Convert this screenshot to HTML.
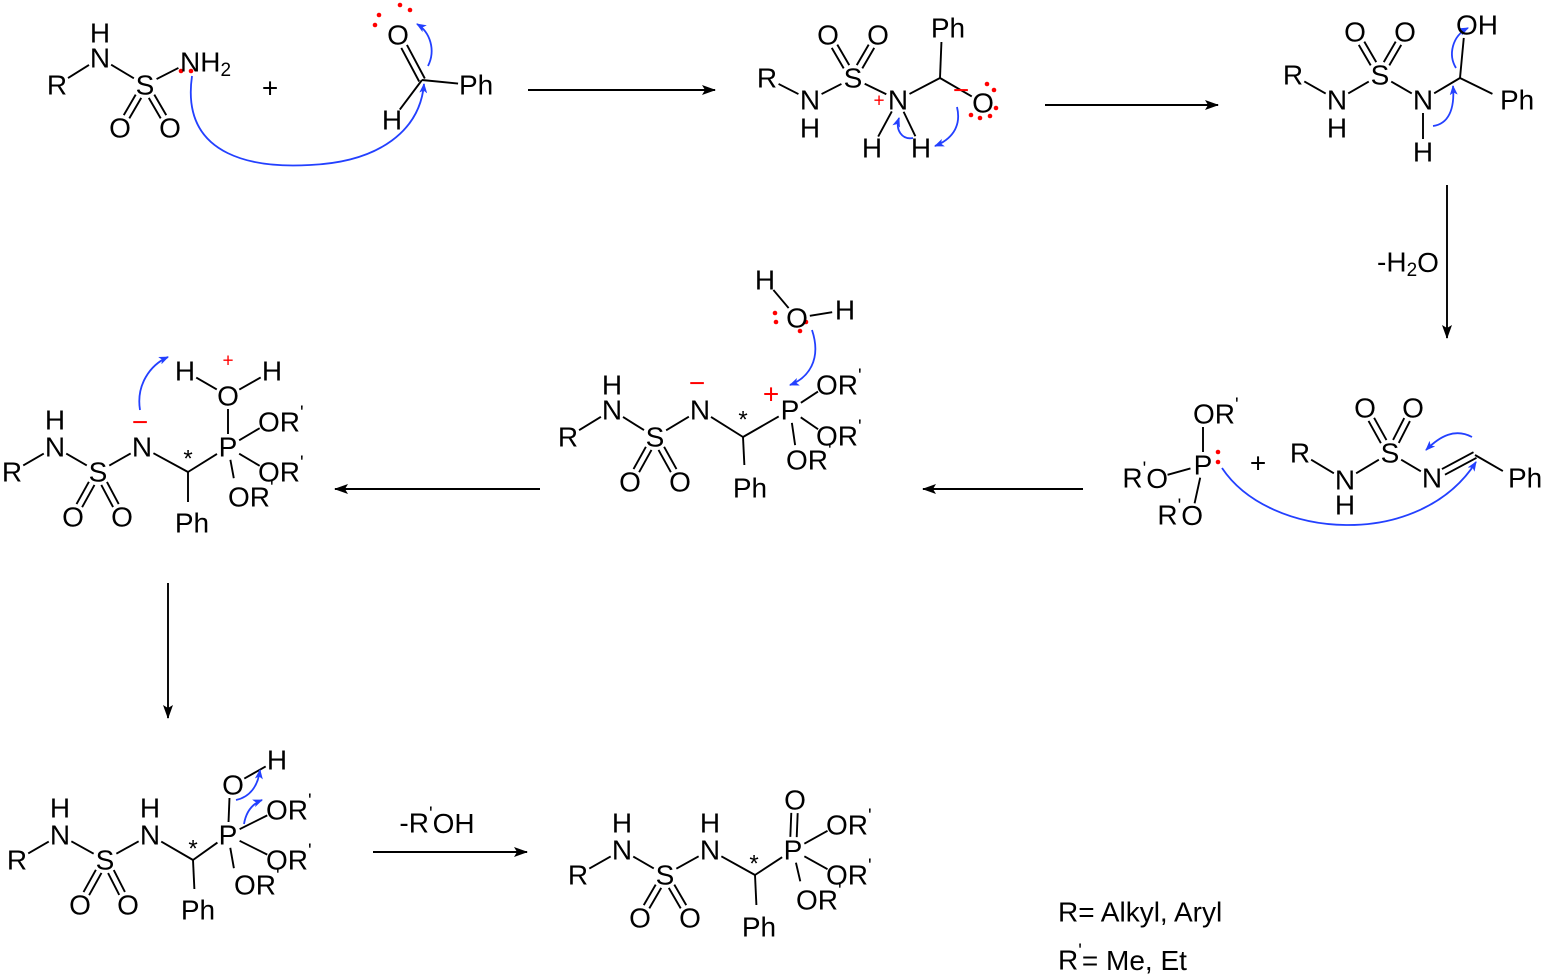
<!DOCTYPE html>
<html><head><meta charset="utf-8"><style>
html,body{margin:0;padding:0;background:#fff;}
svg{display:block;}
text{font-family:"Liberation Sans",Arial,sans-serif;font-size:28px;fill:#000;dominant-baseline:central;}
.m{text-anchor:middle}.s{text-anchor:start}.e{text-anchor:end}
.r{fill:#f00}
.sm{font-size:19px}
</style></head><body>
<svg id="sv" width="1544" height="977" viewBox="0 0 1544 977" xmlns="http://www.w3.org/2000/svg">
<defs>
<marker id="ak" markerWidth="14" markerHeight="10" refX="13" refY="5" orient="auto" markerUnits="userSpaceOnUse"><path d="M0,0 L14,5 L0,10 L3,5 z" fill="#000"/></marker>
<marker id="ab" markerWidth="10" markerHeight="8" refX="9" refY="4" orient="auto" markerUnits="userSpaceOnUse"><path d="M0,0 L10,4 L0,8 L2.5,4 z" fill="#2340ff"/></marker>
</defs>
<g id="bonds" stroke="#000" stroke-width="1.9" fill="none"></g>
<g stroke="#000" stroke-width="1.9" fill="none" marker-end="url(#ak)">
<line x1="528" y1="90" x2="715" y2="90"/>
<line x1="1045" y1="105" x2="1218" y2="105"/>
<line x1="1447" y1="185" x2="1447" y2="338"/>
<line x1="1083" y1="489" x2="923" y2="489"/>
<line x1="540" y1="489" x2="335" y2="489"/>
<line x1="168" y1="583" x2="168" y2="718"/>
<line x1="373" y1="852" x2="527" y2="852"/>
</g>
<g stroke="#2340ff" stroke-width="1.8" fill="none" marker-end="url(#ab)">
<path d="M192,76 C180,160 260,168 310,165 C380,162 420,130 424,84"/>
<path d="M428,66 C436,50 430,32 417,24"/>
<path d="M913,138 C902,140 895,130 899,118"/>
<path d="M957,107 C962,128 950,140 935,146"/>
<path d="M1456,68 C1448,55 1452,36 1468,28"/>
<path d="M1433,126 C1448,124 1455,110 1453,86"/>
<path d="M1222,468 C1270,540 1420,550 1476,462"/>
<path d="M1472,437 C1455,428 1440,436 1426,450"/>
<path d="M812,330 C822,360 808,378 790,385"/>
<path d="M140,410 C136,385 150,365 168,357"/>
<path d="M236,800 C250,797 258,786 260,770"/>
<path d="M244,824 C246,812 252,804 262,800"/>
</g>
<g fill="#f00">
<circle cx="181" cy="71" r="2.3"/><circle cx="191" cy="71" r="2.3"/>
<circle cx="379" cy="15" r="2.3"/><circle cx="375" cy="25" r="2.3"/><circle cx="400" cy="5" r="2.3"/><circle cx="410" cy="10" r="2.3"/>
<circle cx="987" cy="84" r="2.3"/><circle cx="994" cy="90" r="2.3"/><circle cx="996" cy="108" r="2.3"/><circle cx="990" cy="116" r="2.3"/><circle cx="971" cy="115" r="2.3"/><circle cx="980" cy="118" r="2.3"/>
<circle cx="1218" cy="452" r="2.3"/><circle cx="1218" cy="462" r="2.3"/>
<circle cx="775" cy="313" r="2.3"/><circle cx="776" cy="322" r="2.3"/><circle cx="800" cy="331" r="2.3"/><circle cx="806" cy="322" r="2.3"/>
</g>
<!-- Structure 1 -->
<text class="m" x="57" y="85">R</text><text class="m" x="100" y="33">H</text><text class="m" x="100" y="58">N</text>
<text class="m" x="145" y="85">S</text><text class="m" x="120" y="128">O</text><text class="m" x="170" y="128">O</text>
<text class="s" x="180" y="62">NH<tspan class="sm" dy="8">2</tspan></text>
<text class="m" x="270" y="88">+</text>
<text class="m" x="398" y="35">O</text><text class="m" x="392" y="120">H</text><text class="s" x="459" y="85">Ph</text>
<!-- Structure 2 -->
<text class="m" x="767" y="78">R</text><text class="m" x="810" y="100">N</text><text class="m" x="810" y="128">H</text>
<text class="m" x="853" y="78">S</text><text class="m" x="828" y="35">O</text><text class="m" x="878" y="35">O</text>
<text class="m" x="898" y="100">N</text><text class="m r sm" x="879" y="101">+</text>
<text class="m" x="872" y="148">H</text><text class="m" x="921" y="148">H</text>
<text class="m" x="948" y="28">Ph</text><text class="m" x="983" y="103">O</text><text class="m r" x="961" y="90">−</text>
<!-- Structure 3 -->
<text class="m" x="1293" y="75">R</text><text class="m" x="1337" y="100">N</text><text class="m" x="1337" y="128">H</text>
<text class="m" x="1380" y="75">S</text><text class="m" x="1355" y="32">O</text><text class="m" x="1405" y="32">O</text>
<text class="m" x="1423" y="100">N</text><text class="m" x="1423" y="152">H</text>
<text class="s" x="1456" y="25">OH</text><text class="s" x="1500" y="100">Ph</text>
<text class="m" x="1408" y="262">-H<tspan class="sm" dy="8">2</tspan><tspan dy="-8">O</tspan></text>
<!-- Structure 4 -->
<text class="m" x="1203" y="465">P</text>
<text class="s" x="1193" y="414">OR<tspan class="sm" dy="-9">'</tspan></text>
<text class="e" x="1168" y="478">R<tspan class="sm" dy="-9">'</tspan><tspan dy="9">O</tspan></text>
<text class="e" x="1203" y="515">R<tspan class="sm" dy="-9">'</tspan><tspan dy="9">O</tspan></text>
<text class="m" x="1258" y="463">+</text>
<text class="m" x="1300" y="453">R</text><text class="m" x="1345" y="480">N</text><text class="m" x="1345" y="505">H</text>
<text class="m" x="1390" y="453">S</text><text class="m" x="1365" y="408">O</text><text class="m" x="1413" y="408">O</text>
<text class="m" x="1432" y="478">N</text><text class="s" x="1508" y="478">Ph</text>
<!-- Structure 5 -->
<text class="m" x="568" y="437">R</text><text class="m" x="612" y="385">H</text><text class="m" x="612" y="410">N</text>
<text class="m" x="655" y="437">S</text><text class="m" x="630" y="482">O</text><text class="m" x="680" y="482">O</text>
<text class="m" x="700" y="410">N</text><text class="m r" x="697" y="383">−</text>
<text class="m" x="743" y="420" style="font-size:24px">*</text>
<text class="m" x="790" y="410">P</text><text class="m r" x="771" y="394">+</text>
<text class="s" x="816" y="385">OR<tspan class="sm" dy="-9">'</tspan></text>
<text class="s" x="816" y="436">OR<tspan class="sm" dy="-9">'</tspan></text>
<text class="s" x="786" y="460">OR<tspan class="sm" dy="-9">'</tspan></text>
<text class="m" x="750" y="488">Ph</text>
<text class="m" x="765" y="280">H</text><text class="m" x="797" y="318">O</text><text class="m" x="845" y="310">H</text>
<!-- Structure 6 -->
<text class="m" x="12" y="472">R</text><text class="m" x="55" y="420">H</text><text class="m" x="55" y="447">N</text>
<text class="m" x="98" y="472">S</text><text class="m" x="73" y="517">O</text><text class="m" x="122" y="517">O</text>
<text class="m" x="142" y="447">N</text><text class="m r" x="140" y="422">−</text>
<text class="m" x="188" y="459" style="font-size:24px">*</text>
<text class="m" x="228" y="447">P</text>
<text class="s" x="258" y="422">OR<tspan class="sm" dy="-9">'</tspan></text>
<text class="s" x="258" y="472">OR<tspan class="sm" dy="-9">'</tspan></text>
<text class="s" x="228" y="497">OR<tspan class="sm" dy="-9">'</tspan></text>
<text class="m" x="192" y="523">Ph</text>
<text class="m" x="228" y="396">O</text><text class="m" x="185" y="371">H</text><text class="m" x="272" y="371">H</text><text class="m r sm" x="228" y="361">+</text>
<!-- Structure 7 -->
<text class="m" x="17" y="860">R</text><text class="m" x="60" y="808">H</text><text class="m" x="60" y="835">N</text>
<text class="m" x="105" y="860">S</text><text class="m" x="80" y="905">O</text><text class="m" x="128" y="905">O</text>
<text class="m" x="150" y="808">H</text><text class="m" x="150" y="835">N</text>
<text class="m" x="193" y="849" style="font-size:24px">*</text>
<text class="m" x="228" y="835">P</text>
<text class="m" x="233" y="785">O</text><text class="m" x="277" y="760">H</text>
<text class="s" x="266" y="810">OR<tspan class="sm" dy="-9">'</tspan></text>
<text class="s" x="266" y="860">OR<tspan class="sm" dy="-9">'</tspan></text>
<text class="s" x="234" y="885">OR<tspan class="sm" dy="-9">'</tspan></text>
<text class="m" x="198" y="910">Ph</text>
<text class="m" x="437" y="823">-R<tspan class="sm" dy="-9">'</tspan><tspan dy="9">OH</tspan></text>
<!-- Structure 8 -->
<text class="m" x="578" y="875">R</text><text class="m" x="622" y="823">H</text><text class="m" x="622" y="850">N</text>
<text class="m" x="665" y="875">S</text><text class="m" x="640" y="918">O</text><text class="m" x="690" y="918">O</text>
<text class="m" x="710" y="823">H</text><text class="m" x="710" y="850">N</text>
<text class="m" x="754" y="864" style="font-size:24px">*</text>
<text class="m" x="793" y="850">P</text><text class="m" x="795" y="800">O</text>
<text class="s" x="826" y="825">OR<tspan class="sm" dy="-9">'</tspan></text>
<text class="s" x="826" y="875">OR<tspan class="sm" dy="-9">'</tspan></text>
<text class="s" x="796" y="900">OR<tspan class="sm" dy="-9">'</tspan></text>
<text class="m" x="759" y="927">Ph</text>
<text class="s" x="1058" y="912">R= Alkyl, Aryl</text>
<text class="s" x="1058" y="960">R<tspan class="sm" dy="-9">'</tspan><tspan dy="9">= Me, Et</tspan></text>
</svg>
<script>
var g=document.getElementById('bonds'),NS='http://www.w3.org/2000/svg';
function ln(a,b,c,d){var l=document.createElementNS(NS,'line');l.setAttribute('x1',a);l.setAttribute('y1',b);l.setAttribute('x2',c);l.setAttribute('y2',d);g.appendChild(l);}
function L(x1,y1,x2,y2,t1,t2,dbl){if(t1===undefined)t1=13;if(t2===undefined)t2=13;var dx=x2-x1,dy=y2-y1,len=Math.hypot(dx,dy),ux=dx/len,uy=dy/len;
var a=x1+ux*t1,b=y1+uy*t1,c=x2-ux*t2,d=y2-uy*t2;
if(dbl){var px=-uy*3.2,py=ux*3.2;ln(a+px,b+py,c+px,d+py);ln(a-px,b-py,c-px,d-py);}else ln(a,b,c,d);}
L(57,85,100,58);L(100,58,145,85);L(145,85,190,62);L(145,85,120,128,13,13,1);L(145,85,170,128,13,13,1);
L(422,80,398,35,0,13,1);L(422,80,392,120,0,13);L(422,80,472,85,0,14);
L(767,78,810,100);L(810,100,853,78);L(853,78,828,35,13,13,1);L(853,78,878,35,13,13,1);L(853,78,898,100);
L(898,100,872,148);L(898,100,921,148);L(898,100,940,78,13,0);L(940,78,942,28,0,14);L(940,78,983,103,0,13);
L(1293,75,1337,100);L(1337,100,1380,75);L(1380,75,1355,32,13,13,1);L(1380,75,1405,32,13,13,1);L(1380,75,1423,100);
L(1423,100,1423,152);L(1423,100,1460,78,13,0);L(1460,78,1465,25,0,13);L(1460,78,1505,100,0,14);
L(1203,465,1203,414);L(1203,465,1156,478,13,12);L(1203,465,1192,515,13,12);
L(1300,453,1345,480);L(1345,480,1390,453);L(1390,453,1365,408,13,13,1);L(1390,453,1413,408,13,13,1);L(1390,453,1432,478);
L(1432,478,1475,455,13,0,1);L(1475,455,1515,478,0,14);
L(568,437,612,410);L(612,410,655,437);L(655,437,630,482,13,13,1);L(655,437,680,482,13,13,1);L(655,437,700,410);
L(700,410,743,437,13,0);L(743,437,790,410,0,13);L(743,437,745,478,0,13);
L(790,410,828,385,13,12);L(790,410,828,436,13,12);L(790,410,797,458,13,13);
L(765,280,797,318);L(797,318,845,310);
L(12,472,55,447);L(55,447,98,472);L(98,472,73,517,13,13,1);L(98,472,122,517,13,13,1);L(98,472,142,447);
L(142,447,188,472,13,0);L(188,472,228,447,0,13);L(188,472,188,515,0,13);
L(228,447,228,396);L(228,396,185,371);L(228,396,272,371);L(228,447,270,422,13,12);L(228,447,270,472,13,12);L(228,447,236,490,13,12);
L(17,860,60,835);L(60,835,105,860);L(105,860,80,905,13,13,1);L(105,860,128,905,13,13,1);L(105,860,150,835);
L(150,835,193,860,13,0);L(193,860,228,835,0,13);L(193,860,195,902,0,13);
L(228,835,230,785);L(233,785,277,760);L(228,835,278,810,13,12);L(228,835,278,860,13,12);L(228,835,236,880,13,12);
L(578,875,622,850);L(622,850,665,875);L(665,875,640,918,13,13,1);L(665,875,690,918,13,13,1);L(665,875,710,850);
L(710,850,755,875,13,0);L(755,875,793,850,0,13);L(755,875,757,918,0,13);
L(793,850,795,800,13,13,1);L(793,850,838,825,13,12);L(793,850,838,875,13,12);L(793,850,803,893,13,12);
</script>
</body></html>
